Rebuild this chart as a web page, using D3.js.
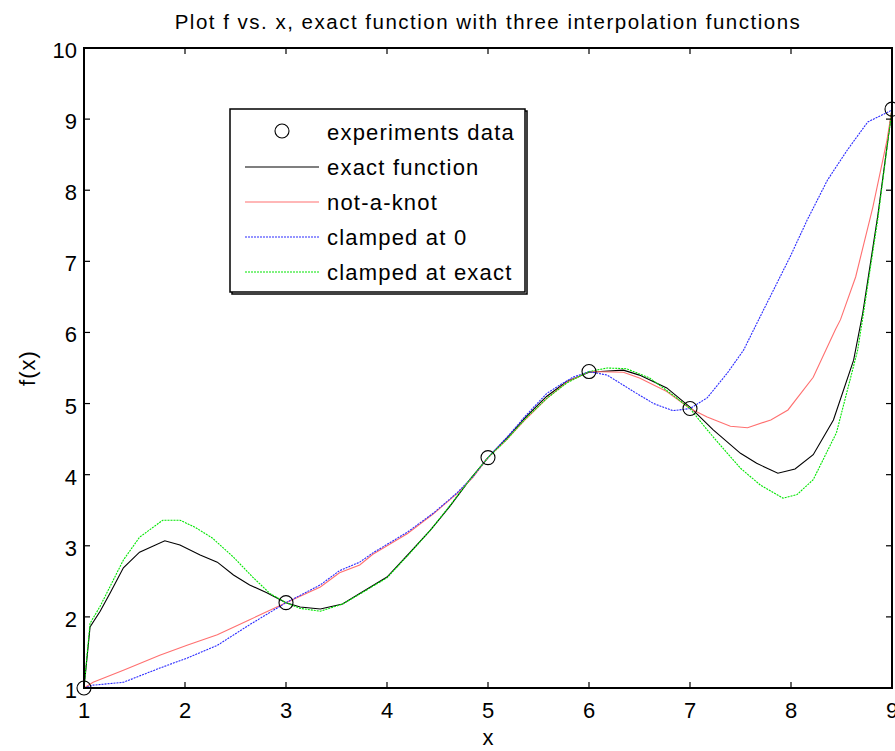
<!DOCTYPE html>
<html>
<head>
<meta charset="utf-8">
<script src="https://cdn.jsdelivr.net/npm/d3@7"></script>
<style>
  body { margin: 0; background: #fff; }
  text { font-family: "Liberation Sans", Arial, Helvetica, sans-serif; fill: #000; }
</style>
</head>
<body>
<svg id="chart"></svg>
<script>
// Data points (circles)
var dataX = [1, 3, 5, 6, 7, 9];
var dataY = [1, 2.2, 4.24, 5.45, 4.93, 9.14];

// exact function (black)
var exactX = [1, 1.06, 1.16, 1.26, 1.39, 1.55, 1.8, 1.95, 2.15, 2.32, 2.48, 2.64, 2.81, 3.0, 3.14, 3.34, 3.56, 3.73, 4.0, 4.23, 4.43, 4.62, 4.82, 5.0, 5.19, 5.38, 5.58, 5.78, 6.0, 6.34, 6.5, 6.77, 7.0, 7.23, 7.5, 7.66, 7.87, 8.04, 8.22, 8.42, 8.62, 8.71, 8.86, 9];
var exactY = [1, 1.86, 2.08, 2.34, 2.69, 2.91, 3.07, 3.01, 2.87, 2.77, 2.59, 2.45, 2.34, 2.2, 2.14, 2.11, 2.18, 2.33, 2.56, 2.91, 3.22, 3.55, 3.93, 4.24, 4.52, 4.82, 5.1, 5.31, 5.44, 5.47, 5.4, 5.22, 4.95, 4.63, 4.3, 4.16, 4.02, 4.08, 4.28, 4.77, 5.61, 6.27, 7.65, 9.14];

// not-a-knot spline (red)
var knotX = [1, 1.09, 1.39, 1.75, 2.02, 2.32, 2.64, 3.0, 3.34, 3.53, 3.73, 3.86, 4.2, 4.46, 4.69, 4.85, 5.0, 5.19, 5.38, 5.58, 5.78, 6.0, 6.34, 6.5, 6.77, 7.0, 7.17, 7.4, 7.57, 7.8, 7.97, 8.22, 8.44, 8.49, 8.64, 8.81, 8.95, 9];
var knotY = [1, 1.08, 1.25, 1.46, 1.6, 1.75, 1.96, 2.2, 2.42, 2.62, 2.73, 2.88, 3.17, 3.45, 3.73, 3.96, 4.24, 4.5, 4.79, 5.07, 5.3, 5.45, 5.44, 5.36, 5.17, 4.93, 4.81, 4.68, 4.66, 4.77, 4.91, 5.37, 6.04, 6.18, 6.78, 7.76, 8.7, 9.14];

// clamped at 0 (blue)
var clamp0X = [1, 1.09, 1.39, 1.75, 2.02, 2.32, 2.64, 3.0, 3.34, 3.53, 3.73, 3.86, 4.2, 4.46, 4.69, 4.85, 5.0, 5.19, 5.38, 5.58, 5.71, 5.84, 6.0, 6.18, 6.44, 6.64, 6.83, 7.0, 7.17, 7.37, 7.53, 7.68, 7.99, 8.16, 8.36, 8.56, 8.76, 8.99, 9];
var clamp0Y = [1, 1.04, 1.08, 1.28, 1.42, 1.6, 1.89, 2.2, 2.45, 2.65, 2.77, 2.9, 3.19, 3.46, 3.74, 3.97, 4.24, 4.53, 4.84, 5.14, 5.26, 5.37, 5.45, 5.4, 5.17, 5.0, 4.9, 4.93, 5.08, 5.43, 5.75, 6.18, 7.06, 7.58, 8.14, 8.57, 8.96, 9.12, 9.14];

// clamped at exact (green)
var clampExX = [1, 1.06, 1.16, 1.39, 1.55, 1.78, 1.95, 2.1, 2.27, 2.48, 2.67, 2.84, 3.0, 3.14, 3.34, 3.56, 3.73, 4.0, 4.23, 4.43, 4.62, 4.82, 5.0, 5.19, 5.38, 5.58, 5.78, 6.0, 6.18, 6.37, 6.6, 6.83, 7.0, 7.17, 7.37, 7.5, 7.7, 7.92, 8.06, 8.22, 8.45, 8.66, 8.71, 8.86, 9];
var clampExY = [1, 1.91, 2.15, 2.8, 3.12, 3.36, 3.36, 3.26, 3.11, 2.84, 2.56, 2.33, 2.2, 2.12, 2.08, 2.18, 2.32, 2.55, 2.9, 3.22, 3.56, 3.93, 4.24, 4.5, 4.8, 5.07, 5.29, 5.45, 5.5, 5.49, 5.36, 5.12, 4.93, 4.63, 4.3, 4.09, 3.85, 3.67, 3.72, 3.93, 4.59, 5.75, 6.2, 7.6, 9.14];

var xTicks = [1, 2, 3, 4, 5, 6, 7, 8, 9];
var yTicks = [1, 2, 3, 4, 5, 6, 7, 8, 9, 10];

var legendLabels = ["experiments data", "exact function", "not-a-knot", "clamped at 0", "clamped at exact"];

// Dimensions
var W = 895, H = 751;
var margin = {top: 48, left: 84},
  width = 808,
  height = 640;

var svg = d3.select("#chart").attr("width", W).attr("height", H);

var x = d3.scaleLinear().domain([1, 9]).range([margin.left, margin.left + width]);
var y = d3.scaleLinear().domain([1, 10]).range([margin.top + height, margin.top]);

function zip(xs, ys) { return xs.map(function(v, i) { return [v, ys[i]]; }); }

var line = d3.line().x(function(d) { return x(d[0]); }).y(function(d) { return y(d[1]); });

// Title
svg.append("text")
  .attr("x", x(5)).attr("y", 29)
  .attr("text-anchor", "middle")
  .style("font-size", "20.5px")
  .style("letter-spacing", "1.5px")
  .text("Plot f vs. x, exact function with three interpolation functions");

var plot = svg.append("g");

// Curves, drawn in plot order: exact, red, blue, green
var series = [
  {pts: zip(exactX, exactY), color: "#000000", dash: null},
  {pts: zip(knotX, knotY), color: "#ff7070", dash: null},
  {pts: zip(clamp0X, clamp0Y), color: "#2a2aff", dash: "2,1"},
  {pts: zip(clampExX, clampExY), color: "#00e600", dash: "2,1"}
];
series.forEach(function(s) {
  plot.append("path")
    .attr("d", line(s.pts))
    .attr("fill", "none")
    .attr("stroke", s.color)
    .attr("stroke-width", 1.1)
    .attr("stroke-dasharray", s.dash);
});

// Data circles
plot.selectAll("circle.pt")
  .data(zip(dataX, dataY))
  .enter().append("circle")
  .attr("class", "pt")
  .attr("cx", function(d) { return x(d[0]); })
  .attr("cy", function(d) { return y(d[1]); })
  .attr("r", 7)
  .attr("fill", "none")
  .attr("stroke", "#000")
  .attr("stroke-width", 1.1);

// Box
plot.append("rect")
  .attr("x", x(1)).attr("y", y(10))
  .attr("width", x(9) - x(1)).attr("height", y(1) - y(10))
  .attr("fill", "none").attr("stroke", "#000").attr("stroke-width", 2);

// Ticks (inward) and labels
var tl = 6;
xTicks.forEach(function(t) {
  plot.append("line").attr("x1", x(t)).attr("x2", x(t))
    .attr("y1", y(1)).attr("y2", y(1) - tl)
    .attr("stroke", "#000").attr("stroke-width", 1.2);
  plot.append("line").attr("x1", x(t)).attr("x2", x(t))
    .attr("y1", y(10)).attr("y2", y(10) + tl)
    .attr("stroke", "#000").attr("stroke-width", 1.2);
  svg.append("text")
    .attr("x", x(t)).attr("y", y(1) + 30)
    .attr("text-anchor", "middle")
    .style("font-size", "22px")
    .text(t);
});
yTicks.forEach(function(t) {
  plot.append("line").attr("x1", x(1)).attr("x2", x(1) + tl)
    .attr("y1", y(t)).attr("y2", y(t))
    .attr("stroke", "#000").attr("stroke-width", 1.2);
  plot.append("line").attr("x1", x(9)).attr("x2", x(9) - tl)
    .attr("y1", y(t)).attr("y2", y(t))
    .attr("stroke", "#000").attr("stroke-width", 1.2);
  svg.append("text")
    .attr("x", x(1) - 7).attr("y", y(t) + 10)
    .attr("text-anchor", "end")
    .style("font-size", "22px")
    .text(t);
});

// Axis labels
svg.append("text")
  .attr("x", x(5)).attr("y", 745)
  .attr("text-anchor", "middle")
  .style("font-size", "22px")
  .text("x");
svg.append("text")
  .attr("transform", "translate(35," + y(5.5) + ") rotate(-90)")
  .attr("text-anchor", "middle")
  .style("font-size", "22px")
  .style("letter-spacing", "1px")
  .text("f(x)");

// Legend
var lg = svg.append("g");
var lx = 230, ly = 109, lw = 295, lh = 183;
lg.append("rect").attr("x", lx + 2).attr("y", ly + 2).attr("width", lw).attr("height", lh)
  .attr("fill", "none").attr("stroke", "#000").attr("stroke-width", 1.5);
lg.append("rect").attr("x", lx).attr("y", ly).attr("width", lw).attr("height", lh)
  .attr("fill", "#fff").attr("stroke", "#000").attr("stroke-width", 1.5);

var rowY = [132, 167, 202, 237, 272];
legendLabels.forEach(function(lab, i) {
  if (i === 0) {
    lg.append("circle").attr("cx", 282).attr("cy", rowY[i] - 1).attr("r", 7)
      .attr("fill", "none").attr("stroke", "#000").attr("stroke-width", 1.1);
  } else {
    var s = series[i - 1];
    lg.append("line").attr("x1", 245).attr("x2", 319)
      .attr("y1", rowY[i]).attr("y2", rowY[i])
      .attr("stroke", s.color).attr("stroke-width", 1.1)
      .attr("stroke-dasharray", s.dash);
  }
  lg.append("text").attr("x", 327).attr("y", rowY[i] + 8)
    .style("font-size", "22px")
    .style("letter-spacing", "1.2px")
    .text(lab);
});
</script>
</body>
</html>
